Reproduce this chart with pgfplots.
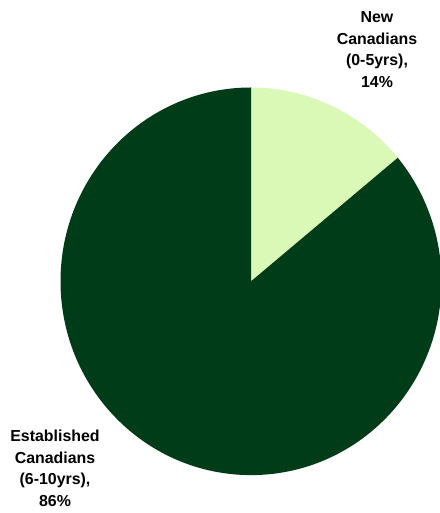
\documentclass[border=0pt]{standalone}
\usepackage{pgfplots}
\usepackage{pgfplotstable}
\pgfplotsset{compat=1.18}
\usepackage{fontspec}
\setmainfont{Liberation Sans}
\definecolor{darkg}{HTML}{003C18}
\definecolor{lightg}{HTML}{DAF8B6}
\pgfplotstableread{
share
14
86
}\piedata
\pgfplotstablegetelem{0}{share}\of\piedata
\edef\sA{\pgfplotsretval}
\pgfplotstablegetelem{1}{share}\of\piedata
\edef\sB{\pgfplotsretval}
\begin{document}
\begin{tikzpicture}
\begin{axis}[
  at={(0,0)}, anchor=south west,
  width=439pt, height=513pt, scale only axis,
  xmin=0, xmax=439, ymin=0, ymax=513,
  enlargelimits=false, hide axis, clip=false,
]
% pie centre (251,231.7), radii 190.5 x 193.8 (axis units = pt)
\fill[lightg] (axis cs:251,231.7) -- (axis cs:251,425.5)
  arc[start angle=90, end angle={90-3.6*\sA}, x radius=190.5pt, y radius=193.8pt] -- cycle;
\fill[darkg] (axis cs:251,231.7) -- (axis cs:251,425.5)
  arc[start angle=90, end angle={90+3.6*\sB}, x radius=190.5pt, y radius=193.8pt] -- cycle;
\tikzset{lab/.style={anchor=base, inner sep=0pt, font=\fontsize{15.9}{19}\selectfont\bfseries}}
\node[lab] at (axis cs:377,490.5) {New};
\node[lab] at (axis cs:377,468.8) {Canadians};
\node[lab] at (axis cs:377,447) {(0-5yrs),};
\node[lab] at (axis cs:377,425.3) {14\%};
\node[lab] at (axis cs:55,71.3) {Established};
\node[lab] at (axis cs:55,49.8) {Canadians};
\node[lab] at (axis cs:55,28.2) {(6-10yrs),};
\node[lab] at (axis cs:55,6.8) {86\%};
\end{axis}
\pgfresetboundingbox
\path[use as bounding box] (0,0) rectangle (439pt,513pt);
\end{tikzpicture}
\end{document}
